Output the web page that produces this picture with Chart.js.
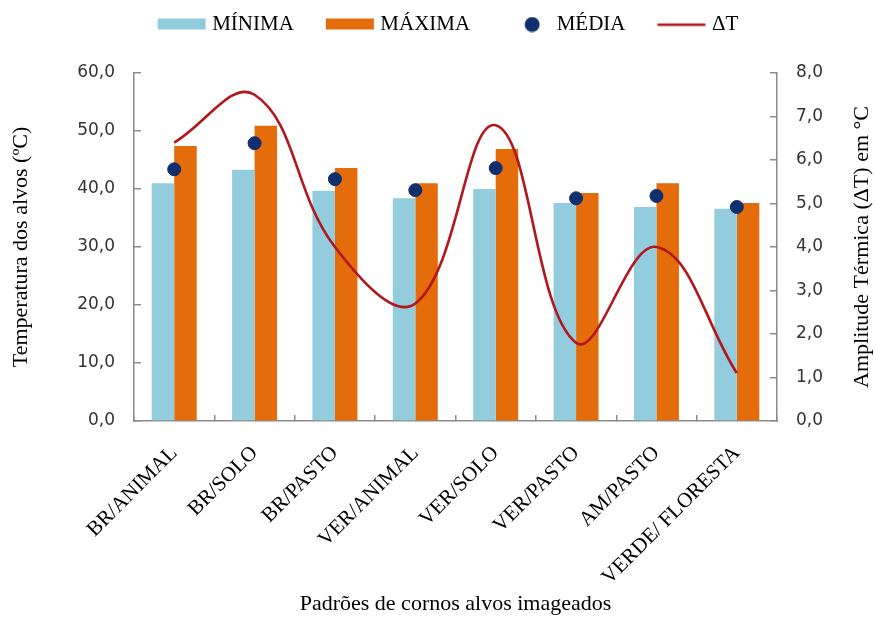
<!DOCTYPE html>
<html>
<head>
<meta charset="utf-8">
<script src="https://cdn.jsdelivr.net/npm/chart.js@4/dist/chart.umd.min.js"></script>
<style>
  html, body { margin: 0; padding: 0; background: #fff; }
  #wrap { width: 876px; height: 617px; }
</style>
</head>
<body>
<div id="wrap"><canvas id="grafico"></canvas></div>
<script>
// dados
const categorias = ["BR/ANIMAL", "BR/SOLO", "BR/PASTO", "VER/ANIMAL", "VER/SOLO", "VER/PASTO", "AM/PASTO", "VERDE/ FLORESTA"];
const minima = [41.0, 43.3, 39.7, 38.4, 40.0, 37.6, 36.9, 36.6];
const maxima = [47.4, 50.9, 43.6, 41.0, 46.9, 39.3, 41.0, 37.6];
const media = [43.4, 47.9, 41.7, 39.8, 43.6, 38.4, 38.8, 36.9];
const deltaT = [6.4, 7.5, 4.0, 2.7, 6.8, 1.8, 4.0, 1.1];

const corMin = "#93cddd";
const corMax = "#e46c0a";
const corMedia = "#0f2f6e";
const corDelta = "#b3161c";
const corEixo = "#8c8c8c";
const serif = "'Liberation Serif', 'Times New Roman', serif";

function virgula(v) {
  return v.toFixed(1).replace(".", ",");
}

// simbolos da legenda desenhados num canvas pequeno
function simbolo(tipo, cor) {
  const c = document.createElement("canvas");
  c.width = 80;
  c.height = 16;
  const g = c.getContext("2d");
  g.fillStyle = cor;
  if (tipo === "caixa") {
    g.fillRect(28, 2, 48, 11);
  } else if (tipo === "ponto") {
    g.beginPath();
    g.arc(58, 8, 7.5, 0, Math.PI * 2);
    g.fill();
  } else {
    g.fillRect(28, 7, 48, 2.5);
  }
  return c;
}

const tituloDireita = {
  id: "tituloDireita",
  afterDraw(chart, args, opts) {
    const s = chart.scales.y2;
    const ctx = chart.ctx;
    ctx.save();
    ctx.translate(s.right - opts.offset, (s.top + s.bottom) / 2);
    ctx.rotate(-Math.PI / 2);
    ctx.font = "22px " + serif;
    ctx.textAlign = "center";
    ctx.textBaseline = "middle";
    ctx.fillStyle = "#000";
    ctx.fillText(opts.text, 0, 0);
    ctx.restore();
  }
};

const ctx = document.getElementById("grafico").getContext("2d");
new Chart(ctx, {
  type: "bar",
  data: {
    labels: categorias,
    datasets: [
      { label: "MÍNIMA", data: minima, backgroundColor: corMin, yAxisID: "y", order: 3,
        categoryPercentage: 0.56, barPercentage: 1.0 },
      { label: "MÁXIMA", data: maxima, backgroundColor: corMax, yAxisID: "y", order: 3,
        categoryPercentage: 0.56, barPercentage: 1.0 },
      { type: "line", label: "MÉDIA", data: media, yAxisID: "y", showLine: false, order: 1,
        pointRadius: 6.5, pointHoverRadius: 6.5, pointBackgroundColor: corMedia,
        pointBorderColor: corMedia, pointBorderWidth: 1 },
      { type: "line", label: "ΔT", data: deltaT, yAxisID: "y2", order: 2,
        borderColor: corDelta, borderWidth: 2.6, tension: 0.4, pointRadius: 0, fill: false }
    ]
  },
  options: {
    responsive: true,
    maintainAspectRatio: false,
    animation: false,
    layout: { padding: { top: 2, left: 0, right: 0, bottom: 0 } },
    plugins: {
      tooltip: { enabled: false },
      title: { display: true, text: "", weight: 500, padding: 0, font: { size: 28, lineHeight: 1 } },
      legend: {
        position: "top",
        labels: {
          usePointStyle: true,
          pointStyleWidth: 64,
          boxHeight: 12,
          padding: 12,
          color: "#000",
          font: { family: serif, size: 21 },
          generateLabels: () => [
            { text: "MÍNIMA", pointStyle: simbolo("caixa", corMin), datasetIndex: 0, lineWidth: 0, fontColor: "#000" },
            { text: "MÁXIMA", pointStyle: simbolo("caixa", corMax), datasetIndex: 1, lineWidth: 0, fontColor: "#000" },
            { text: "MÉDIA", pointStyle: simbolo("ponto", corMedia), datasetIndex: 2, lineWidth: 0, fontColor: "#000" },
            { text: "ΔT", pointStyle: simbolo("linha", corDelta), datasetIndex: 3, lineWidth: 0, fontColor: "#000" }
          ]
        }
      },
      tituloDireita: { text: "Amplitude Térmica (ΔT) em °C", offset: 14 }
    },
    scales: {
      x: {
        grid: { display: true, offset: true, drawOnChartArea: false, tickLength: -6, color: corEixo, lineWidth: 1.5 },
        border: { color: corEixo, width: 1.5 },
        ticks: {
          autoSkip: false, minRotation: 45, maxRotation: 45, padding: 26,
          color: "#000", font: { family: serif, size: 21 }
        },
        title: { display: true, text: "Padrões de cornos alvos imageados", color: "#000",
          font: { family: serif, size: 22 }, padding: { top: 0, bottom: 0 } },
        afterFit: (s) => { s.height = 196; }
      },
      y: {
        position: "left",
        min: 0, max: 60,
        ticks: { stepSize: 10, padding: 26, color: "#333", font: { family: "'DejaVu Sans'", size: 17 },
          callback: (v) => virgula(v) },
        grid: { drawOnChartArea: false, tickLength: -7, color: corEixo, lineWidth: 1.5 },
        border: { color: corEixo, width: 1.5 },
        title: { display: true, text: "Temperatura dos alvos (ºC)", color: "#000",
          font: { family: serif, size: 22 }, padding: { top: 8, bottom: 0 } },
        afterFit: (s) => { s.width = 134; }
      },
      y2: {
        position: "right",
        min: 0, max: 8,
        ticks: { stepSize: 1, padding: 26, color: "#333", font: { family: "'DejaVu Sans'", size: 17 },
          callback: (v) => virgula(v) },
        grid: { drawOnChartArea: false, tickLength: -7, color: corEixo, lineWidth: 1.5 },
        border: { color: corEixo, width: 1.5 },
        afterFit: (s) => { s.width = 99; }
      }
    }
  },
  plugins: [tituloDireita]
});
</script>
</body>
</html>
